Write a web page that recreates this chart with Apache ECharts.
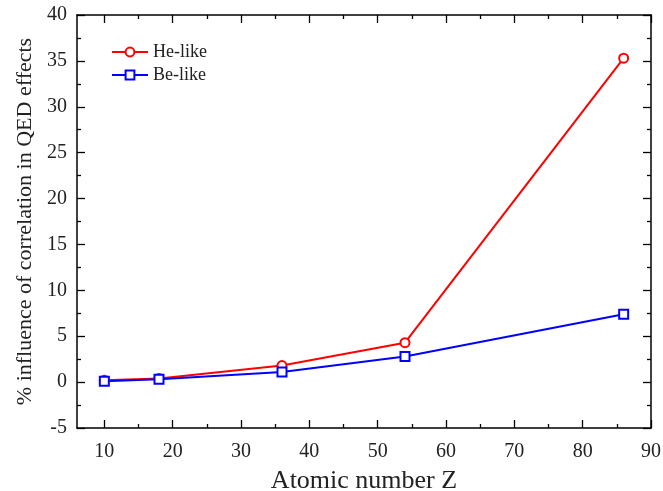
<!DOCTYPE html>
<html>
<head>
<meta charset="utf-8">
<script src="https://cdn.jsdelivr.net/npm/echarts@6/dist/echarts.min.js"></script>
<style>
  html, body { margin: 0; padding: 0; background: #fff; }
  #chart-main { width: 663px; height: 491px; }
</style>
</head>
<body>
<div id="chart-main"></div>
<script>
// data
const atomicZ = [10, 18, 36, 54, 86];
const heLike = [0.2, 0.4, 1.8, 4.3, 35.3];
const beLike = [0.1, 0.3, 1.1, 2.8, 7.4];
const xMajorTicks = [10, 20, 30, 40, 50, 60, 70, 80, 90];
const xMinorTicks = [15, 25, 35, 45, 55, 65, 75, 85];

const font = 'Liberation Serif';
const pairs = ys => atomicZ.map((z, i) => [z, ys[i]]);

function xAxisFor(pos, ticks, len, showLabel, showLine) {
  return {
    type: 'value', position: pos, min: 6, max: 90,
    axisLine: { show: showLine, onZero: false, lineStyle: { color: '#000', width: 1.5 } },
    axisTick: { show: true, inside: true, length: len, customValues: ticks, lineStyle: { color: '#000', width: 1.3 } },
    axisLabel: showLabel ? { show: true, customValues: xMajorTicks, margin: 14, fontFamily: font, fontSize: 20, color: '#222' } : { show: false },
    splitLine: { show: false }
  };
}

function yAxisFor(pos, showLabel) {
  return {
    type: 'value', position: pos, min: -5, max: 40, interval: 5,
    axisLine: { show: true, onZero: false, lineStyle: { color: '#000', width: 1.5 } },
    axisTick: { show: true, inside: true, length: 8, lineStyle: { color: '#000', width: 1.3 } },
    minorTick: { show: true, splitNumber: 2, length: 4, lineStyle: { color: '#000', width: 1.3 } },
    axisLabel: { show: showLabel, margin: 10, fontFamily: font, fontSize: 20, color: '#222' },
    splitLine: { show: false }
  };
}

const xBottom = xAxisFor('bottom', xMajorTicks, 8, true, true);
xBottom.name = 'Atomic number Z';
xBottom.nameLocation = 'middle';
xBottom.nameGap = 40;
xBottom.nameTextStyle = { fontFamily: font, fontSize: 26, color: '#222' };

const yLeft = yAxisFor('left', true);
yLeft.name = '% influence of correlation in QED effects';
yLeft.nameLocation = 'middle';
yLeft.nameGap = 41;
yLeft.nameTextStyle = { fontFamily: font, fontSize: 22, color: '#222' };

const myChart = echarts.init(document.getElementById('chart-main'));
const option = {
  animation: false,
  backgroundColor: '#fff',
  grid: { left: 77, right: 12, top: 15, bottom: 63, outerBoundsMode: 'none' },
  legend: {
    left: 106, top: 38, orient: 'vertical', itemGap: 5,
    itemWidth: 36, itemHeight: 11,
    textStyle: { fontFamily: font, fontSize: 18, color: '#222' },
    data: ['He-like', 'Be-like']
  },
  xAxis: [
    xBottom,
    xAxisFor('bottom', xMinorTicks, 4, false, false),
    xAxisFor('top', xMajorTicks, 8, false, true),
    xAxisFor('top', xMinorTicks, 4, false, false)
  ],
  yAxis: [yLeft, yAxisFor('right', false)],
  series: [
    {
      name: 'He-like', type: 'line', data: pairs(heLike),
      symbol: 'emptyCircle', symbolSize: 9,
      lineStyle: { color: '#ff0000', width: 2 },
      itemStyle: { color: '#ff0000', borderWidth: 1.8 }
    },
    {
      name: 'Be-like', type: 'line', data: pairs(beLike),
      symbol: 'emptyRect', symbolSize: 9,
      lineStyle: { color: '#0000ff', width: 2 },
      itemStyle: { color: '#0000ff', borderWidth: 1.8 }
    }
  ]
};
myChart.setOption(option);
</script>
</body>
</html>
